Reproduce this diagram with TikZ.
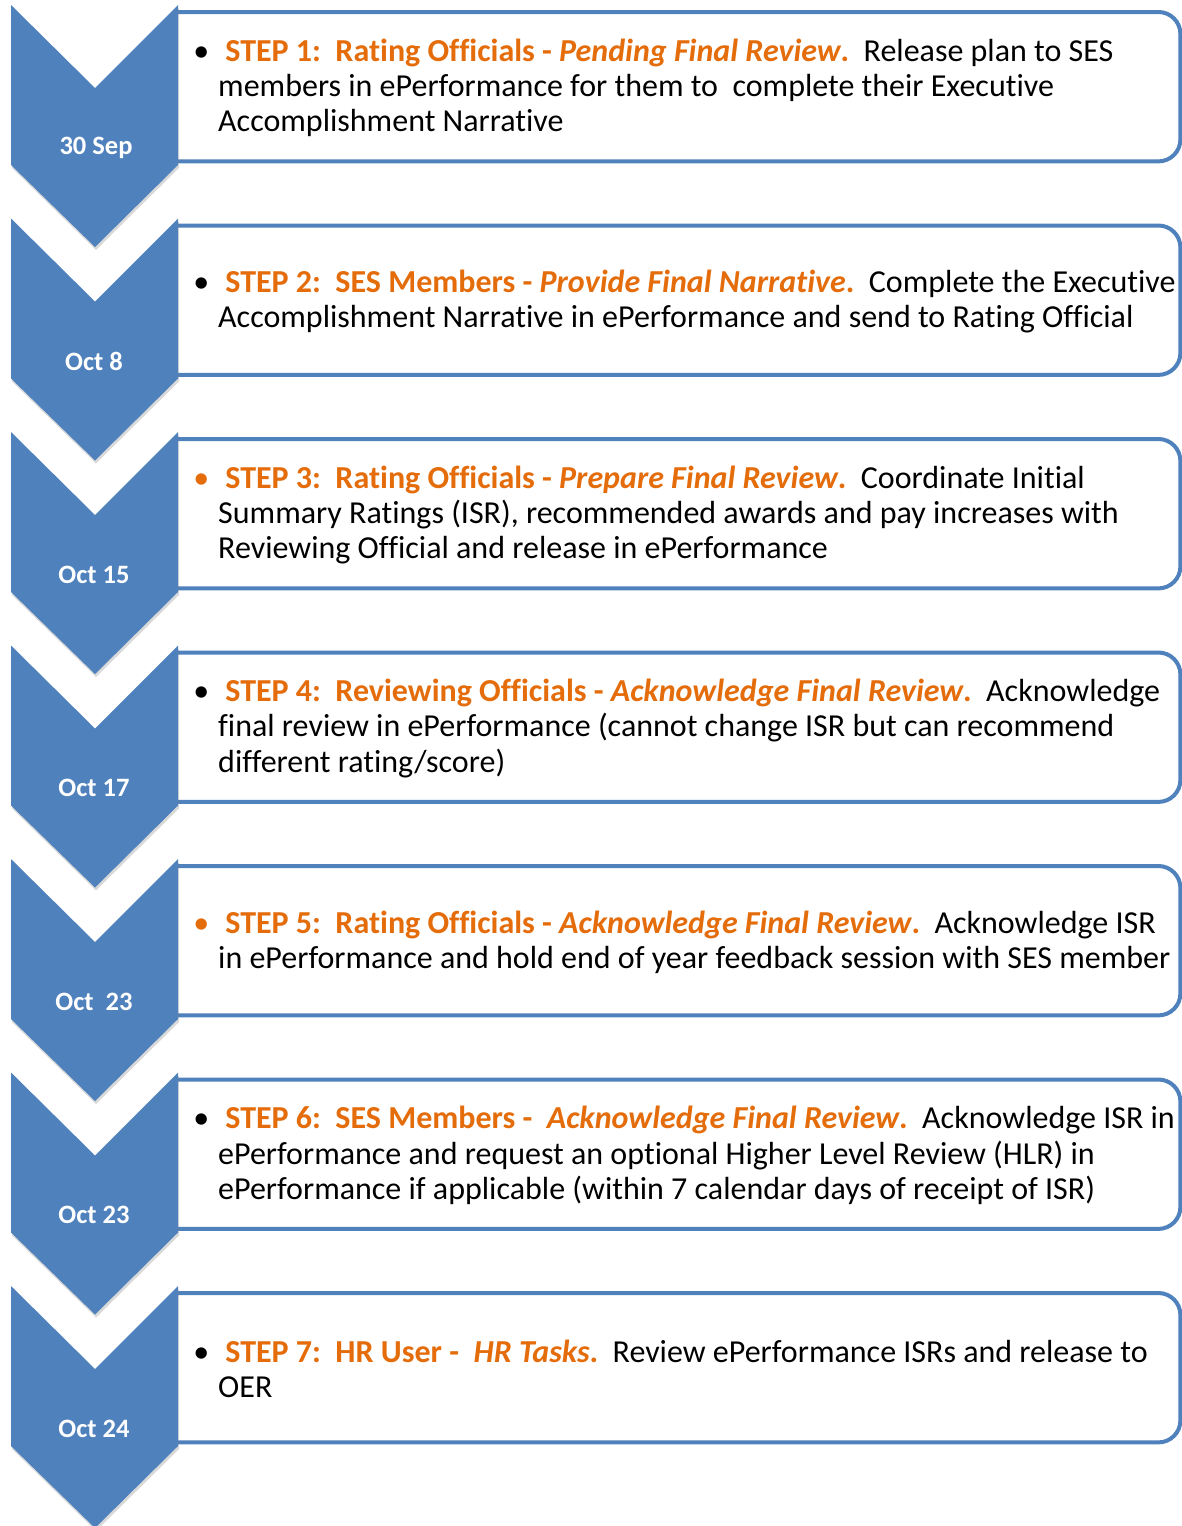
\documentclass[tikz,border=0pt]{standalone}
\usepackage{fontspec}
\setmainfont{Carlito}[RawFeature={-liga;-clig;-calt}]
\usepackage{xcolor}
\usepackage{tikz}
\usetikzlibrary{shadows}

\definecolor{stepblue}{HTML}{4F81BD}
\definecolor{steporange}{HTML}{E46C0A}

\tikzstyle{chevron} = [fill=stepblue, drop shadow={opacity=0.3, shadow xshift=1pt, shadow yshift=-3pt}]
\tikzstyle{datelabel} = [text=white, font=\fontsize{26.5}{30}\selectfont\bfseries]
\tikzstyle{stepbox} = [rectangle, fill=white, minimum width=1002pt, minimum height=149pt, inner sep=0pt]
\tikzstyle{boxline} = [draw=stepblue, line width=4pt, rounded corners=22pt]
\tikzstyle{steptext} = [anchor=west, align=left, inner sep=0pt, font=\fontsize{32}{35.3}\selectfont]

\newcommand{\steptitle}[3]{\textcolor{steporange}{\bfseries #1\textit{#2}.}}
\newcommand{\blackdot}{\llap{\textbullet\hspace{9pt}}}
\newcommand{\orangedot}{\llap{\textcolor{steporange}{\textbullet}\hspace{9pt}}}

\begin{document}
\begin{tikzpicture}[x=1pt, y=-1pt]
    \useasboundingbox (0,0) rectangle (1182,1526);

    % Step boxes
    \node (box1) [stepbox, anchor=north west] at (178,12) {};
    \node (box2) [stepbox, anchor=north west] at (178,225.5) {};
    \node (box3) [stepbox, anchor=north west] at (178,439) {};
    \node (box4) [stepbox, anchor=north west] at (178,652.5) {};
    \node (box5) [stepbox, anchor=north west] at (178,866) {};
    \node (box6) [stepbox, anchor=north west] at (178,1079.5) {};
    \node (box7) [stepbox, anchor=north west] at (178,1293) {};
    \foreach \b in {box1,box2,box3,box4,box5,box6,box7}
        \draw [boxline] (\b.north west) -- (\b.north east) -- (\b.south east) -- (\b.south west);

    % Chevrons
    \fill [chevron] (11,5) -- ++(84,83) -- ++(83,-83) -- ++(0,160) -- ++(-83,82) -- ++(-84,-82) -- cycle;
    \fill [chevron] (11,218.5) -- ++(84,83) -- ++(83,-83) -- ++(0,160) -- ++(-83,82) -- ++(-84,-82) -- cycle;
    \fill [chevron] (11,432) -- ++(84,83) -- ++(83,-83) -- ++(0,160) -- ++(-83,82) -- ++(-84,-82) -- cycle;
    \fill [chevron] (11,645.5) -- ++(84,83) -- ++(83,-83) -- ++(0,160) -- ++(-83,82) -- ++(-84,-82) -- cycle;
    \fill [chevron] (11,859) -- ++(84,83) -- ++(83,-83) -- ++(0,160) -- ++(-83,82) -- ++(-84,-82) -- cycle;
    \fill [chevron] (11,1072.5) -- ++(84,83) -- ++(83,-83) -- ++(0,160) -- ++(-83,82) -- ++(-84,-82) -- cycle;
    \fill [chevron] (11,1286) -- ++(84,83) -- ++(83,-83) -- ++(0,160) -- ++(-83,82) -- ++(-84,-82) -- cycle;

    % Dates
    \node (date1) [datelabel] at (96,147.5) {30 Sep};
    \node (date2) [datelabel] at (94,361) {Oct 8};
    \node (date3) [datelabel] at (94,574.5) {Oct 15};
    \node (date4) [datelabel] at (94,788) {Oct 17};
    \node (date5) [datelabel] at (94,1001.5) {Oct~~23};
    \node (date6) [datelabel] at (94,1215) {Oct 23};
    \node (date7) [datelabel] at (94,1428.5) {Oct 24};

    % Step texts
    \node (txt1) [steptext] at (218,88) {\blackdot~\steptitle{STEP 1:~~Rating Officials - }{Pending Final Review}{}~~Release plan to SES\\
        members in ePerformance for them to~~complete their Executive\\
        Accomplishment Narrative};
    \node (txt2) [steptext] at (218,301.5) {\blackdot~\steptitle{STEP 2:~~SES Members - }{Provide Final Narrative}{}~~Complete the Executive\\
        Accomplishment Narrative in ePerformance and send to Rating Official};
    \node (txt3) [steptext] at (218,515) {\orangedot~\steptitle{STEP 3:~~Rating Officials - }{Prepare Final Review}{}~~Coordinate Initial\\
        Summary Ratings (ISR), recommended awards and pay increases with\\
        Reviewing Official and release in ePerformance};
    \node (txt4) [steptext] at (218,728.5) {\blackdot~\steptitle{STEP 4:~~Reviewing Officials - }{Acknowledge Final Review}{}~~Acknowledge\\
        final review in ePerformance (cannot change ISR but can recommend\\
        different rating/score)};
    \node (txt5) [steptext] at (218,942) {\orangedot~\steptitle{STEP 5:~~Rating Officials - }{Acknowledge Final Review}{}~~Acknowledge ISR\\
        in ePerformance and hold end of year feedback session with SES member};
    \node (txt6) [steptext] at (218,1155.5) {\blackdot~\steptitle{STEP 6:~~SES Members -~~}{Acknowledge Final Review}{}~~Acknowledge ISR in\\
        ePerformance and request an optional Higher Level Review (HLR) in\\
        ePerformance if applicable (within 7 calendar days of receipt of ISR)};
    \node (txt7) [steptext] at (218,1369) {\blackdot~\steptitle{STEP 7:~~HR User -~~}{HR Tasks}{}~~Review ePerformance ISRs and release to\\
        OER};
\end{tikzpicture}
\end{document}
